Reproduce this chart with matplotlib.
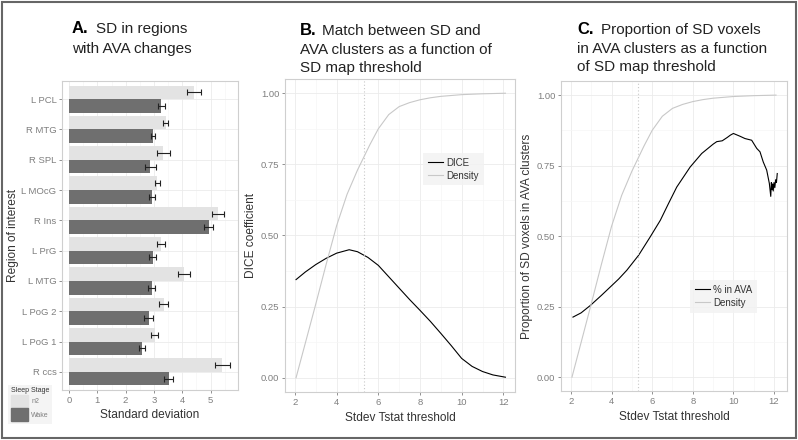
import numpy as np
import matplotlib
matplotlib.use('Agg')
import matplotlib.pyplot as plt
from matplotlib.patches import Rectangle
from matplotlib.patches import Patch
import matplotlib.ticker as ticker

plt.rcParams['font.family'] = ['Liberation Sans', 'DejaVu Sans']

# panel A data
regions = ['L PCL', 'R MTG', 'R SPL', 'L MOcG', 'R Ins', 'L PrG', 'L MTG', 'L PoG 2', 'L PoG 1', 'R ccs']
n2_mean = [4.42, 3.41, 3.33, 3.12, 5.27, 3.24, 4.06, 3.35, 3.02, 5.42]
n2_se = [0.25, 0.10, 0.22, 0.10, 0.21, 0.15, 0.22, 0.16, 0.12, 0.25]
wake_mean = [3.26, 2.96, 2.87, 2.93, 4.93, 2.95, 2.92, 2.82, 2.58, 3.52]
wake_se = [0.12, 0.08, 0.19, 0.12, 0.16, 0.11, 0.13, 0.16, 0.10, 0.16]

# panel B data
dice_x = [2.05, 2.5, 3.0, 3.5, 4.0, 4.6, 5.0, 5.5, 6.0, 6.5, 7.0, 7.5, 8.0, 8.5, 9.0, 9.5, 10.0, 10.5, 11.0, 11.5, 12.1]
dice_y = [0.345, 0.372, 0.398, 0.42, 0.438, 0.45, 0.443, 0.423, 0.395, 0.355, 0.315, 0.275, 0.237, 0.198, 0.156, 0.113, 0.068, 0.04, 0.022, 0.01, 0.002]

dens_x = [2.05, 2.5, 3.0, 3.5, 4.0, 4.5, 5.0, 5.3, 5.6, 6.0, 6.5, 7.0, 7.5, 8.0, 8.5, 9.0, 10.0, 11.0, 12.1]
dens_y = [0.0, 0.123, 0.26, 0.40, 0.535, 0.645, 0.73, 0.775, 0.82, 0.875, 0.925, 0.953, 0.967, 0.977, 0.984, 0.989, 0.995, 0.998, 1.0]

# panel C data
ava_x = [2.1, 2.5, 2.95, 3.5, 3.94, 4.35, 4.75, 5.33, 5.9, 6.4, 6.8, 7.21, 7.87, 8.44, 9.0, 9.18, 9.45, 9.7, 9.85,
         10.0, 10.33, 10.57, 10.9, 11.15, 11.31, 11.47, 11.64, 11.77, 11.84, 11.87, 11.9, 11.93, 11.96, 12.0, 12.04,
         12.08, 12.12, 12.16]
ava_y = [0.213, 0.228, 0.254, 0.29, 0.32, 0.348, 0.379, 0.432, 0.497, 0.556, 0.615, 0.674, 0.745, 0.793, 0.826, 0.835,
         0.838, 0.85, 0.858, 0.864, 0.854, 0.846, 0.840, 0.811, 0.799, 0.763, 0.734, 0.687, 0.641, 0.69, 0.665, 0.685,
         0.66, 0.69, 0.672, 0.70, 0.69, 0.722]

thresh = 5.32

W, H = 798, 440
fig = plt.figure(figsize=(W / 100, H / 100), dpi=100)

def px_axes(x0, y0, x1, y1):
    return fig.add_axes([x0 / W, 1 - y1 / H, (x1 - x0) / W, (y1 - y0) / H])

gray_txt = '#7f7f7f'
lab_col = '#333333'

def style(ax):
    ax.set_facecolor('white')
    for s in ax.spines.values():
        s.set_color('#cfcfcf')
        s.set_linewidth(0.8)
    ax.tick_params(axis='both', which='major', labelsize=6.8, colors=gray_txt, length=2.5, width=0.6, pad=1.5)
    ax.tick_params(axis='both', which='minor', length=0)
    ax.grid(True, which='major', color='#ebebeb', lw=0.6)
    ax.grid(True, which='minor', color='#f6f6f6', lw=0.5)
    ax.set_axisbelow(True)

# ---- A ----
axA = px_axes(62, 81, 238, 390)
style(axA)
pos = np.arange(len(regions))[::-1] + 1.0
axA.barh(pos + 0.225, n2_mean, height=0.45, color='#e3e3e3', label='n2')
axA.barh(pos - 0.225, wake_mean, height=0.45, color='#6f6f6f', label='Wake')
axA.errorbar(n2_mean, pos + 0.225, xerr=n2_se, fmt='none', ecolor='#222222', elinewidth=0.8, capsize=2.5, capthick=0.8)
axA.errorbar(wake_mean, pos - 0.225, xerr=wake_se, fmt='none', ecolor='#222222', elinewidth=0.8, capsize=2.5, capthick=0.8)
axA.set_yticks(pos)
axA.set_yticklabels(regions)
axA.set_ylim(0.4, 10.6)
axA.set_xlim(-0.25, 5.97)
axA.xaxis.set_major_locator(ticker.MultipleLocator(1))
axA.xaxis.set_minor_locator(ticker.MultipleLocator(0.5))
axA.set_xlabel('Standard deviation', fontsize=8.6, color=lab_col, labelpad=3)
axA.set_ylabel('Region of interest', fontsize=8.6, color=lab_col, labelpad=2)
legA = axA.legend(handles=[Patch(color='#e3e3e3', label='n2'), Patch(color='#6f6f6f', label='Wake')],
                  title='Sleep Stage', loc='lower left', bbox_to_anchor=(5 / W, 13 / H),
                  bbox_transform=fig.transFigure, fontsize=5, title_fontsize=5,
                  handlelength=2.4, handleheight=2.4, handletextpad=0.5, borderpad=0.4,
                  labelspacing=0.1, frameon=True, fancybox=False)
legA.get_frame().set_facecolor('#f2f2f2')
legA.get_frame().set_edgecolor('none')
legA._legend_box.align = 'left'
for t in legA.get_texts():
    t.set_color('#7f7f7f')
legA.get_title().set_color(lab_col)

# ---- B ----
axB = px_axes(285, 79, 515, 392)
style(axB)
axB.plot(dice_x, dice_y, color='black', lw=0.8, label='DICE')
axB.plot(dens_x, dens_y, color='#c8c8c8', lw=0.8, label='Density')
axB.axvline(thresh, color='#c8c8c8', lw=0.8, ls=(0, (1, 2)))
axB.set_xlim(1.52, 12.56)
axB.set_ylim(-0.05, 1.05)
axB.xaxis.set_major_locator(ticker.MultipleLocator(2))
axB.xaxis.set_minor_locator(ticker.MultipleLocator(1))
axB.yaxis.set_major_locator(ticker.MultipleLocator(0.25))
axB.yaxis.set_minor_locator(ticker.MultipleLocator(0.125))
axB.yaxis.set_major_formatter(ticker.FormatStrFormatter('%.2f'))
axB.set_xlabel('Stdev Tstat threshold', fontsize=8.6, color=lab_col, labelpad=4)
axB.set_ylabel('DICE coefficient', fontsize=8.6, color=lab_col, labelpad=3)
legB = axB.legend(loc='upper left', bbox_to_anchor=(418 / W, 1 - 148 / H), bbox_transform=fig.transFigure,
                  fontsize=7, handlelength=1.6, handletextpad=0.3, borderpad=0.5, labelspacing=0.3,
                  fancybox=False)
legB.get_frame().set_facecolor('#f2f2f2')
legB.get_frame().set_edgecolor('none')
for t in legB.get_texts():
    t.set_color(lab_col)

# ---- C ----
axC = px_axes(561, 81, 787, 391)
style(axC)
axC.plot(ava_x, ava_y, color='black', lw=0.8, label='% in AVA')
axC.plot(dens_x, dens_y, color='#c8c8c8', lw=0.8, label='Density')
axC.axvline(thresh, color='#c8c8c8', lw=0.8, ls=(0, (1, 2)))
axC.set_xlim(1.51, 12.64)
axC.set_ylim(-0.049, 1.05)
axC.xaxis.set_major_locator(ticker.MultipleLocator(2))
axC.xaxis.set_minor_locator(ticker.MultipleLocator(1))
axC.yaxis.set_major_locator(ticker.MultipleLocator(0.25))
axC.yaxis.set_minor_locator(ticker.MultipleLocator(0.125))
axC.yaxis.set_major_formatter(ticker.FormatStrFormatter('%.2f'))
axC.set_xlabel('Stdev Tstat threshold', fontsize=8.6, color=lab_col, labelpad=4)
axC.set_ylabel('Proportion of SD voxels in AVA clusters', fontsize=8.6, color=lab_col, labelpad=3)
legC = axC.legend(loc='upper left', bbox_to_anchor=(685 / W, 1 - 275 / H), bbox_transform=fig.transFigure,
                  fontsize=7, handlelength=1.6, handletextpad=0.3, borderpad=0.5, labelspacing=0.3,
                  fancybox=False)
legC.get_frame().set_facecolor('#f2f2f2')
legC.get_frame().set_edgecolor('none')
for t in legC.get_texts():
    t.set_color(lab_col)

# ---- titles ----
def title(xb, xr, lines, letter):
    fig.text(xb / W, 1 - lines[0][1] / H, letter, fontsize=12, fontweight='bold', va='baseline', ha='left')
    fig.text(xr / W, 1 - lines[0][1] / H, lines[0][0], fontsize=11, va='baseline', ha='left', color='#222222')
    for txt, yb in lines[1:]:
        fig.text(xb / W, 1 - yb / H, txt, fontsize=11, va='baseline', ha='left', color='#222222')

title(72, 96, [('SD in regions', 33), ('with AVA changes', 53)], 'A.')
title(300, 322, [('Match between SD and', 35), ('AVA clusters as a function of', 54), ('SD map threshold', 72)], 'B.')
title(577, 601, [('Proportion of SD voxels', 34), ('in AVA clusters as a function', 53), ('of SD map threshold', 71)], 'C.')

# outer border
fig.patches.append(Rectangle((1.5 / W, 2.5 / H), (W - 4) / W, (H - 5) / H, transform=fig.transFigure,
                             fill=False, edgecolor='#666666', lw=1.5))

fig.savefig('out.png', dpi=100)
